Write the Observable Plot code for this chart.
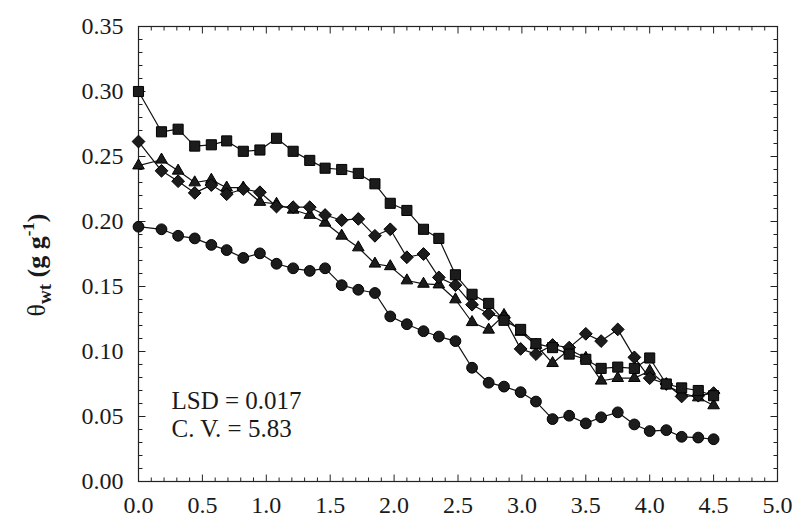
<!DOCTYPE html>
<html><head><meta charset="utf-8">
<script src="https://cdn.jsdelivr.net/npm/d3@7"></script>
<script src="https://cdn.jsdelivr.net/npm/@observablehq/plot@0.6"></script>
<style>body{margin:0;background:#fff} #chart{width:797px;height:518px}</style>
</head><body><div id="chart"></div>
<script>
const depth = [0, 0.18, 0.31, 0.44, 0.57, 0.69, 0.82, 0.95, 1.08, 1.21, 1.34, 1.46, 1.59, 1.72, 1.85, 1.97, 2.10, 2.23, 2.35, 2.48, 2.61, 2.74, 2.86, 2.99, 3.11, 3.24, 3.37, 3.50, 3.62, 3.75, 3.88, 4.00, 4.13, 4.25, 4.38, 4.50];
const squares = [0.300, 0.269, 0.271, 0.258, 0.259, 0.262, 0.254, 0.255, 0.264, 0.254, 0.247, 0.241, 0.240, 0.237, 0.229, 0.214, 0.2085, 0.194, 0.187, 0.159, 0.144, 0.137, 0.124, 0.117, 0.106, 0.103, 0.098, 0.094, 0.087, 0.088, 0.087, 0.095, 0.075, 0.072, 0.070, 0.066];
const diamonds = [0.2615, 0.239, 0.231, 0.222, 0.228, 0.221, 0.225, 0.2225, 0.2115, 0.211, 0.211, 0.205, 0.201, 0.202, 0.189, 0.194, 0.1725, 0.175, 0.157, 0.151, 0.136, 0.129, 0.126, 0.102, 0.098, 0.105, 0.103, 0.1136, 0.108, 0.117, 0.0955, 0.0795, 0.075, 0.0654, 0.066, 0.068];
const triangles = [0.243, 0.2475, 0.239, 0.230, 0.232, 0.226, 0.226, 0.215, 0.2135, 0.209, 0.205, 0.199, 0.189, 0.180, 0.1675, 0.1655, 0.1546, 0.152, 0.1515, 0.140, 0.1225, 0.1167, 0.128, 0.115, 0.105, 0.091, 0.1015, 0.095, 0.0775, 0.0795, 0.0795, 0.085, 0.074, 0.068, 0.0646, 0.0585];
const circles = [0.196, 0.194, 0.189, 0.187, 0.182, 0.178, 0.172, 0.1755, 0.1675, 0.164, 0.162, 0.164, 0.151, 0.1475, 0.145, 0.127, 0.121, 0.1156, 0.1115, 0.108, 0.0875, 0.076, 0.073, 0.0687, 0.0615, 0.048, 0.0506, 0.0447, 0.0494, 0.0532, 0.0439, 0.0388, 0.0395, 0.0344, 0.0338, 0.0325];
const xTicks = [0, 0.5, 1.0, 1.5, 2.0, 2.5, 3.0, 3.5, 4.0, 4.5, 5.0];
const yTicks = [0, 0.05, 0.10, 0.15, 0.20, 0.25, 0.30, 0.35];
const annotations = ["LSD = 0.017", "C. V. = 5.83"];

const series = [
  {key: "sq", values: squares},
  {key: "di", values: diamonds},
  {key: "tr", values: triangles},
  {key: "ci", values: circles}
];
const rows = series.flatMap(s => s.values.map((v, i) => ({depth: depth[i], v, s: s.key})));
const of = k => rows.filter(d => d.s === k);

const xMinor = d3.range(0, 5.0001, 0.1).filter(v => Math.abs(v * 2 - Math.round(v * 2)) > 1e-6);
const yMinor = d3.range(0, 0.35001, 0.01).filter(v => Math.abs(v * 20 - Math.round(v * 20)) > 1e-6);

const tick = (dx, dy) => ({draw(ctx) { ctx.moveTo(0, 0); ctx.lineTo(dx, dy); }});
const diamondSym = {draw(ctx, size) { const h = Math.sqrt(size / Math.PI) * 1.12; ctx.moveTo(0, -h); ctx.lineTo(h, 0); ctx.lineTo(0, h); ctx.lineTo(-h, 0); ctx.closePath(); }};

const tk = {stroke: "#222", strokeWidth: 1, fill: "none"};
const mk = {fill: "#1c1c1c", stroke: "#000", strokeWidth: 1};
const serif = "'Liberation Serif', 'Times New Roman', serif";

const chart = Plot.plot({
  width: 797, height: 518,
  marginLeft: 138, marginRight: 20, marginTop: 26, marginBottom: 37,
  style: {fontFamily: serif, fontSize: "24px", color: "#1a1a1a", background: "#fff"},
  x: {domain: [0, 5], axis: null},
  y: {domain: [0, 0.35], axis: null},
  marks: [
    Plot.frame({stroke: "#222", strokeWidth: 1.2}),
    Plot.dot(xTicks, {x: d => d, y: () => 0, symbol: tick(0, -7), ...tk}),
    Plot.dot(xMinor, {x: d => d, y: () => 0, symbol: tick(0, -4), ...tk}),
    Plot.dot(xTicks, {x: d => d, y: () => 0.35, symbol: tick(0, 7), ...tk}),
    Plot.dot(xMinor, {x: d => d, y: () => 0.35, symbol: tick(0, 4), ...tk}),
    Plot.dot(yTicks, {y: d => d, x: () => 0, symbol: tick(7, 0), ...tk}),
    Plot.dot(yMinor, {y: d => d, x: () => 0, symbol: tick(4, 0), ...tk}),
    Plot.dot(yTicks, {y: d => d, x: () => 5, symbol: tick(-7, 0), ...tk}),
    Plot.dot(yMinor, {y: d => d, x: () => 5, symbol: tick(-4, 0), ...tk}),
    Plot.axisX({ticks: xTicks, tickSize: 0, tickPadding: 14, tickFormat: d3.format(".1f"), fontSize: 24, label: null}),
    Plot.axisY({ticks: yTicks, tickSize: 0, tickPadding: 15, tickFormat: d3.format(".2f"), fontSize: 24, label: null}),
    Plot.line(rows, {x: "depth", y: "v", z: "s", stroke: "#111", strokeWidth: 1.2}),
    Plot.dot(of("ci"), {x: "depth", y: "v", symbol: "circle", r: 5.4, ...mk}),
    Plot.dot(of("tr"), {x: "depth", y: "v", symbol: "triangle", r: 4.3, ...mk}),
    Plot.dot(of("di"), {x: "depth", y: "v", symbol: diamondSym, r: 5.7, ...mk}),
    Plot.dot(of("sq"), {x: "depth", y: "v", symbol: "square", r: 5.7, ...mk}),
    Plot.text([annotations[0]], {frameAnchor: "bottom-left", dx: 33, dy: -81, textAnchor: "start", lineAnchor: "middle", fontSize: 25, fill: "#1a1a1a"}),
    Plot.text([annotations[1]], {frameAnchor: "bottom-left", dx: 33, dy: -53, textAnchor: "start", lineAnchor: "middle", fontSize: 25, fill: "#1a1a1a"})
  ]
});
document.getElementById("chart").appendChild(chart);

// y-axis title with subscript and superscript
const svg = d3.select(chart);
const t = svg.append("text")
  .attr("transform", "translate(45,265) rotate(-90)")
  .attr("text-anchor", "middle")
  .attr("fill", "#1a1a1a")
  .style("font-family", serif)
  .style("font-size", "26px")
  .style("font-weight", "bold");
t.append("tspan").text("θ").style("font-weight", "normal");
t.append("tspan").attr("dy", 6).style("font-size", "19px").text("wt");
t.append("tspan").attr("dy", -6).text(" (g g");
t.append("tspan").attr("dy", -11).style("font-size", "17px").text("-1");
t.append("tspan").attr("dy", 11).text(")");
</script>
</body></html>
